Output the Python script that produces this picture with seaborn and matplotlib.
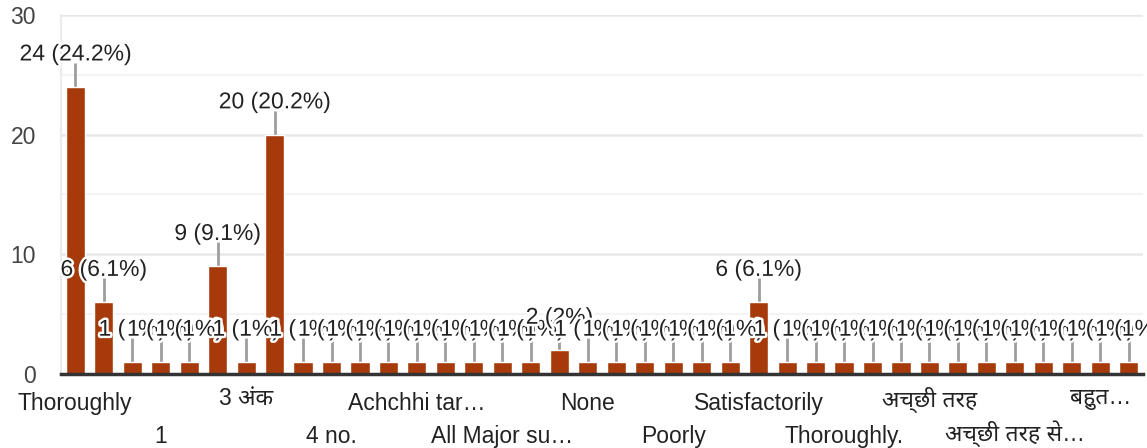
import numpy as np
import pandas as pd
import matplotlib
matplotlib.use('Agg')
import matplotlib.pyplot as plt
import matplotlib.patheffects as pe
import seaborn as sns

# 38 answers, only every third one gets a visible tick label
counts = [24, 6, 1, 1, 1, 9, 1, 20,
          1, 1, 1, 1, 1, 1, 1, 1, 1,
          2,
          1, 1, 1, 1, 1, 1,
          6,
          1, 1, 1, 1, 1, 1, 1, 1, 1, 1, 1, 1, 1]
tick_labels = ['Thoroughly', '1', '3 अंक', '4 no.', 'Achchhi tar…', 'All Major su…',
               'None', 'Poorly', 'Satisfactorily', 'Thoroughly.', 'अच्छी तरह',
               'अच्छी तरह से…', 'बहुत…']

total = sum(counts)
df = pd.DataFrame({'answer': np.arange(len(counts)), 'count': counts})

sns.set_style('white')
plt.rcParams['font.family'] = ['Liberation Sans', 'Noto Sans', 'DejaVu Sans']

bar_color = '#a63a0b'
fs = 16.5
fig = plt.figure(figsize=(11.47, 4.48), dpi=100)
ax = fig.add_axes([61/1147, 74/448, 1082/1147, 359/448])

sns.barplot(data=df, x='answer', y='count', color=bar_color, width=0.67,
            saturation=1, ax=ax, zorder=3)

ax.set_xlim(-0.5, len(counts) - 0.5)
ax.set_ylim(0, 30)
ax.set_yticks([0, 10, 20, 30])
ax.set_yticks([5, 15, 25], minor=True)
ax.grid(axis='y', which='major', color='#e8e8e8', linewidth=1.8, zorder=0)
ax.grid(axis='y', which='minor', color='#f4f4f4', linewidth=1.5, zorder=0)
ax.set_xlabel('')
ax.set_ylabel('')

for s in ['top', 'right']:
    ax.spines[s].set_visible(False)
ax.spines['left'].set_color('#ebebeb')
ax.spines['left'].set_linewidth(1.5)
ax.spines['bottom'].set_color('#333333')
ax.spines['bottom'].set_linewidth(2.5)
ax.spines['bottom'].set_zorder(4)

ax.tick_params(axis='y', which='both', length=0, pad=18, labelsize=fs, labelcolor='#444444')
ax.set_xticks(range(0, len(counts), 3))
ax.set_xticklabels(tick_labels)
ax.tick_params(axis='x', length=0, labelsize=fs, labelcolor='#222222')
# alternate two rows; Devanagari labels use a taller font, so lift them a bit
for i, t in enumerate(ax.xaxis.get_major_ticks()):
    pad = 13 if i % 2 == 0 else 37
    if any('\u0900' <= ch <= '\u097f' for ch in tick_labels[i]):
        pad -= 4
    t.set_pad(pad)

# value labels with grey leader lines and white halo
for i, v in enumerate(counts):
    ax.vlines(i, v, v + 2.0, color='#9e9e9e', linewidth=2, zorder=2)
    pct = v / total * 100
    pct_txt = f'{pct:.1f}'.rstrip('0').rstrip('.')
    ax.text(i, v + 2.2, f'{v} ({pct_txt}%)', ha='center', va='baseline',
            fontsize=fs, color='#222222', zorder=5,
            path_effects=[pe.withStroke(linewidth=3.5, foreground='white')])

fig.savefig('out.png', dpi=100)
